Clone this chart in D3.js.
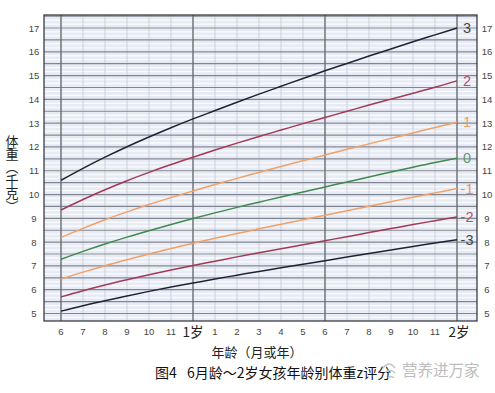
<!DOCTYPE html>
<html><head><meta charset="utf-8">
<script src="https://cdn.jsdelivr.net/npm/d3@7"></script>
<style>body{margin:0;background:#fff}svg{display:block;font-family:"Noto Sans CJK SC","Noto Sans",sans-serif}</style>
</head><body><svg id="c" width="495" height="393"></svg>
<script>
const months = [6,7,8,9,10,11,12,13,14,15,16,17,18,19,20,21,22,23,24];
const sdNeg3 = [5.1,5.33,5.54,5.74,5.93,6.11,6.28,6.45,6.61,6.77,6.92,7.07,7.22,7.37,7.52,7.67,7.82,7.96,8.1];
const sdNeg2 = [5.7,5.96,6.2,6.42,6.63,6.83,7.02,7.2,7.38,7.55,7.72,7.89,8.06,8.23,8.4,8.57,8.74,8.9,9.06];
const sdNeg1 = [6.45,6.74,7.01,7.26,7.5,7.73,7.95,8.16,8.36,8.56,8.75,8.94,9.13,9.32,9.51,9.7,9.89,10.07,10.25];
const sd0    = [7.28,7.61,7.92,8.21,8.48,8.74,8.99,9.23,9.46,9.68,9.9,10.11,10.32,10.53,10.74,10.95,11.15,11.35,11.53];
const sdPos1 = [8.2,8.58,8.94,9.27,9.58,9.87,10.15,10.42,10.68,10.93,11.18,11.42,11.66,11.9,12.13,12.36,12.59,12.82,13.04];
const sdPos2 = [9.35,9.79,10.2,10.58,10.93,11.26,11.57,11.87,12.16,12.44,12.71,12.98,13.24,13.5,13.76,14.01,14.26,14.51,14.78];
const sdPos3 = [10.6,11.1,11.57,12.01,12.42,12.81,13.18,13.53,13.88,14.22,14.55,14.88,15.2,15.51,15.82,16.12,16.42,16.71,17.0];
const seriesNames = ["3","2","1","0","-1","-2","-3"];
const xTickLabels = ["6","7","8","9","10","11","1岁","1","2","3","4","5","6","7","8","9","10","11","2岁"];
const yTicks = [5,6,7,8,9,10,11,12,13,14,15,16,17];

const seriesData = [sdPos3, sdPos2, sdPos1, sd0, sdNeg1, sdNeg2, sdNeg3];
const lineColors = ["#1e2433","#a23a55","#f0a068","#3f8a4e","#f0a068","#a23a55","#1e2433"];
const labelColors = ["#444","#b0506e","#e8a060","#5f9a70","#ee9060","#b0506e","#444"];

const svg = d3.select("#c");
const L=44, R=477, T=15, B=321;
const x = d3.scaleLinear().domain([6,24]).range([61,457]);
const y = d3.scaleLinear().domain([5,17]).range([313.5,28]);

svg.append("rect").attr("x",L).attr("y",T).attr("width",R-L).attr("height",B-T).attr("fill","#e7ebf5");
const yMin = y.invert(B), yMax = y.invert(T);
const minor = d3.range(Math.ceil(yMin*6)/6, yMax, 1/6);
svg.append("g").selectAll("line").data(minor).join("line")
  .attr("x1",L).attr("x2",R).attr("y1",d=>y(d)).attr("y2",d=>y(d))
  .attr("stroke","#fbfcfe").attr("stroke-width",1.3);
const vMonths = d3.range(6,25);
svg.append("g").selectAll("line").data(vMonths).join("line")
  .attr("y1",T).attr("y2",B).attr("x1",d=>x(d)).attr("x2",d=>x(d))
  .attr("stroke","#cbd1dd").attr("stroke-width",1);
const major = d3.range(5,17.6,0.5);
svg.append("g").selectAll("line").data(major).join("line")
  .attr("x1",L).attr("x2",R).attr("y1",d=>y(d)).attr("y2",d=>y(d))
  .attr("stroke","#80858f").attr("stroke-width",1.2);
svg.append("g").selectAll("line").data([6,12,18,24]).join("line")
  .attr("y1",T).attr("y2",B).attr("x1",d=>x(d)).attr("x2",d=>x(d))
  .attr("stroke","#666b74").attr("stroke-width",1.3);
svg.append("rect").attr("x",L).attr("y",T).attr("width",R-L).attr("height",B-T)
  .attr("fill","none").attr("stroke","#3a3d44").attr("stroke-width",1.3);

const line = d3.line().x((d,i)=>x(months[i])).y(d=>y(d)).curve(d3.curveMonotoneX);
svg.append("g").selectAll("path").data(seriesData).join("path")
  .attr("d",line).attr("fill","none")
  .attr("stroke",(d,i)=>lineColors[i]).attr("stroke-width",1.5);

svg.append("g").selectAll("text").data(seriesData).join("text")
  .attr("x",467).attr("y",d=>y(d[d.length-1])+5)
  .attr("text-anchor","middle").attr("font-size",14.5)
  .attr("font-family","Liberation Sans, Arial, sans-serif")
  .attr("fill",(d,i)=>labelColors[i]).text((d,i)=>seriesNames[i]);

const tickFont = "Liberation Sans, Arial, sans-serif";
svg.append("g").selectAll("text").data(yTicks).join("text")
  .attr("x",34).attr("y",d=>y(d)+3.5).attr("text-anchor","middle")
  .attr("font-size",9.5).attr("font-family",tickFont).attr("fill","#444").text(d=>d);
svg.append("g").selectAll("text").data(yTicks).join("text")
  .attr("x",487).attr("y",d=>y(d)+3.5).attr("text-anchor","middle")
  .attr("font-size",9.5).attr("font-family",tickFont).attr("fill","#444").text(d=>d);

svg.append("g").selectAll("text").data(xTickLabels).join("text")
  .attr("x",(d,i)=>x(months[i]) + (d==="2岁"?2:0))
  .attr("y",(d)=>d.includes("岁")?337:335)
  .attr("text-anchor","middle")
  .attr("font-size",d=>d.includes("岁")?13.5:9.5)
  .attr("font-family",d=>d.includes("岁")?'"Noto Sans CJK SC",sans-serif':tickFont)
  .attr("fill",d=>d.includes("岁")?"#222":"#444").text(d=>d);

svg.append("text").attr("x",257).attr("y",357).attr("text-anchor","middle")
  .attr("font-size",13).attr("fill","#222").text("年龄（月或年）");
svg.append("text").attr("x",12).attr("y",135)
  .style("writing-mode","vertical-rl")
  .style("text-orientation","upright")
  .attr("font-size",13).attr("fill","#222").text("体重（千克）");

svg.append("text").attr("x",155).attr("y",378).attr("font-size",14).attr("fill","#111")
  .text("图4");
svg.append("text").attr("x",187).attr("y",378).attr("font-size",14).attr("fill","#111")
  .text("6月龄～2岁女孩年龄别体重z评分");
const wm = svg.append("g");
wm.append("path").attr("d","M383,368 q6,-8 12,0 M385,373 q5,-5 10,0 M388,378 q3,-3 6,0")
  .attr("fill","none").attr("stroke","#c4c4c4").attr("stroke-width",1.6);
wm.append("text").attr("x",402).attr("y",376).attr("font-size",15.5).attr("fill","#bdbdbd")
  .text("营养进万家");
</script></body></html>
